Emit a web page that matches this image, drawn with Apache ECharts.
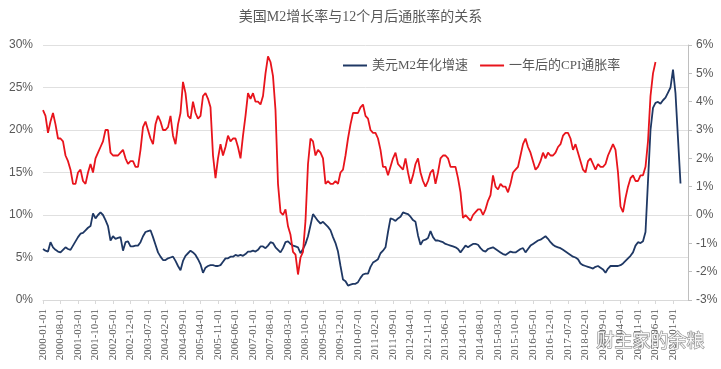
<!DOCTYPE html>
<html>
<head>
<meta charset="utf-8">
<script src="https://cdn.jsdelivr.net/npm/echarts@6/dist/echarts.min.js"></script>
<style>
html,body{margin:0;padding:0;background:#fff;}
#c{width:721px;height:369px;}
</style>
</head>
<body>
<div id="c"></div>
<script>
// Category range (monthly, first day of month)
var startYear = 2000, startMonth = 1, endYear = 2021, endMonth = 7;

// 美元M2年化增速 (%), left axis, monthly from 2000-01
var m2Growth = [
  6.0, 5.8, 5.7, 6.8, 6.2, 5.9, 5.7, 5.6, 5.9, 6.2, 6.0, 5.9,        // 2000
  6.4, 6.9, 7.4, 7.8, 7.9, 8.2, 8.5, 8.7, 10.2, 9.6, 10.0, 10.3,     // 2001
  10.0, 9.4, 8.7, 7.0, 7.5, 7.2, 7.3, 7.4, 5.8, 6.8, 6.9, 6.3,       // 2002
  6.3, 6.4, 6.4, 6.8, 7.5, 8.0, 8.1, 8.2, 7.4, 6.5, 5.6, 5.1,        // 2003
  4.7, 4.7, 4.9, 5.0, 5.1, 4.6, 4.0, 3.5, 4.6, 5.2, 5.5, 5.8,        // 2004
  5.6, 5.3, 4.8, 4.2, 3.2, 3.8, 4.0, 4.1, 4.1, 4.0, 4.0, 4.1,        // 2005
  4.5, 4.9, 4.9, 5.1, 5.1, 5.3, 5.2, 5.3, 5.2, 5.4, 5.7, 5.7,        // 2006
  5.8, 5.7, 5.9, 6.3, 6.3, 6.1, 6.4, 6.8, 6.7, 6.2, 5.9, 5.6,        // 2007
  6.1, 6.8, 6.9, 6.6, 6.4, 6.3, 6.2, 5.5, 6.0, 6.6, 7.5, 8.8,        // 2008
  10.1, 9.7, 9.3, 9.0, 9.2, 8.9, 8.6, 8.2, 7.4, 6.7, 5.7, 4.0,       // 2009
  2.4, 2.2, 1.7, 1.8, 1.9, 1.9, 2.1, 2.6, 3.0, 3.1, 3.1, 3.9,        // 2010
  4.4, 4.6, 4.8, 5.5, 5.8, 6.2, 8.0, 9.6, 9.5, 9.3, 9.6, 9.8,        // 2011
  10.3, 10.2, 10.1, 9.8, 9.4, 9.2, 7.6, 6.5, 7.0, 7.1, 7.3, 8.1,     // 2012
  7.4, 7.0, 7.0, 6.9, 6.8, 6.6, 6.5, 6.4, 6.3, 6.2, 6.0, 5.6,        // 2013
  6.0, 6.4, 6.2, 6.4, 6.6, 6.6, 6.5, 6.1, 5.8, 5.7, 6.0, 6.1,        // 2014
  6.2, 6.0, 5.8, 5.6, 5.4, 5.3, 5.5, 5.7, 5.6, 5.6, 5.8, 6.0,        // 2015
  6.1, 5.6, 6.0, 6.4, 6.6, 6.8, 7.0, 7.1, 7.3, 7.5, 7.2, 6.8,        // 2016
  6.5, 6.3, 6.2, 6.1, 5.9, 5.7, 5.5, 5.3, 5.1, 5.0, 4.8, 4.3,        // 2017
  4.1, 4.0, 3.9, 3.8, 3.7, 3.9, 4.0, 3.8, 3.6, 3.2, 3.7, 4.0,        // 2018
  4.0, 4.0, 4.0, 4.1, 4.3, 4.6, 4.9, 5.2, 5.6, 6.4, 6.8, 6.7,        // 2019
  6.9, 8.0, 14.0, 20.0, 22.6, 23.2, 23.3, 23.1, 23.5, 23.8, 24.4, 25.0, // 2020
  27.1, 24.3, 19.0, 13.7                                               // 2021
];

// 一年后的CPI通胀率 (%), right axis, monthly from 2000-01 (CPI of month +12)
var cpiNextYear = [
  3.7, 3.5, 2.9, 3.3, 3.6, 3.2, 2.7, 2.7, 2.6, 2.1, 1.9, 1.6,        // 2000
  1.1, 1.1, 1.5, 1.6, 1.2, 1.1, 1.5, 1.8, 1.5, 2.0, 2.2, 2.4,        // 2001
  2.6, 3.0, 3.0, 2.2, 2.1, 2.1, 2.1, 2.2, 2.3, 2.0, 1.8, 1.9,        // 2002
  1.9, 1.7, 1.7, 2.3, 3.1, 3.3, 3.0, 2.7, 2.5, 3.2, 3.5, 3.3,        // 2003
  3.0, 3.0, 3.1, 3.5, 2.8, 2.5, 3.2, 3.6, 4.7, 4.3, 3.5, 3.4,        // 2004
  4.0, 3.6, 3.4, 3.5, 4.2, 4.3, 4.1, 3.8, 2.1, 1.3, 2.0, 2.5,        // 2005
  2.1, 2.4, 2.8, 2.6, 2.7, 2.7, 2.4, 2.0, 2.8, 3.5, 4.3, 4.1,        // 2006
  4.3, 4.0, 4.0, 3.9, 4.2, 5.0, 5.6, 5.4, 4.9, 3.7, 1.1, 0.1,        // 2007
  0.0, 0.2, -0.4, -0.7, -1.3, -1.4, -2.1, -1.5, -1.3, -0.2, 1.8, 2.7, // 2008
  2.6, 2.1, 2.3, 2.2, 2.0, 1.1, 1.2, 1.1, 1.1, 1.2, 1.1, 1.5,        // 2009
  1.6, 2.1, 2.7, 3.2, 3.6, 3.6, 3.6, 3.8, 3.9, 3.5, 3.4, 3.0,        // 2010
  2.9, 2.9, 2.7, 2.3, 1.7, 1.7, 1.4, 1.7, 2.0, 2.2, 1.8, 1.7,        // 2011
  1.6, 2.0, 1.5, 1.1, 1.4, 1.8, 2.0, 1.5, 1.2, 1.0, 1.2, 1.5,        // 2012
  1.6, 1.1, 1.5, 2.0, 2.1, 2.1, 2.0, 1.7, 1.7, 1.7, 1.3, 0.8,        // 2013
  -0.1, 0.0, -0.1, -0.2, 0.0, 0.1, 0.2, 0.2, 0.0, 0.2, 0.5, 0.7,     // 2014
  1.4, 1.0, 0.9, 1.1, 1.0, 1.0, 0.8, 1.1, 1.5, 1.6, 1.7, 2.1,        // 2015
  2.5, 2.7, 2.4, 2.2, 1.9, 1.6, 1.7, 1.9, 2.2, 2.0, 2.2, 2.1,        // 2016
  2.1, 2.2, 2.4, 2.5, 2.8, 2.9, 2.9, 2.7, 2.3, 2.5, 2.2, 1.9,        // 2017
  1.6, 1.5, 1.9, 2.0, 1.8, 1.6, 1.8, 1.7, 1.7, 1.8, 2.1, 2.3,        // 2018
  2.5, 2.3, 1.5, 0.3, 0.1, 0.6, 1.0, 1.3, 1.4, 1.2, 1.2, 1.4,        // 2019
  1.4, 1.7, 2.6, 4.2, 5.0, 5.4                                         // 2020
];

var titleText = '美国M2增长率与12个月后通胀率的关系';
var seriesNames = ['美元M2年化增速', '一年后的CPI通胀率'];
var watermarkText = '财主家的余粮';

var categories = [];
(function () {
  var y = startYear, m = startMonth;
  while (y < endYear || (y === endYear && m <= endMonth)) {
    categories.push(y + '-' + (m < 10 ? '0' + m : '' + m) + '-01');
    m++; if (m > 12) { m = 1; y++; }
  }
})();

var txt = '#595959';
var serifCJK = '"Liberation Serif", "Noto Sans CJK SC", serif';
var chart = echarts.init(document.getElementById('c'), null, {renderer: 'canvas'});
chart.setOption({
  backgroundColor: '#ffffff',
  animation: false,
  title: {
    text: titleText,
    left: 'center',
    top: 10,
    padding: 0,
    textStyle: {fontSize: 14, fontWeight: 'normal', color: txt, fontFamily: serifCJK}
  },
  legend: {
    data: seriesNames,
    left: 343,
    top: 59,
    padding: 0,
    itemGap: 12,
    itemWidth: 24,
    itemHeight: 2,
    icon: 'rect',
    textStyle: {fontSize: 13, color: txt, fontFamily: serifCJK}
  },
  grid: {left: 43, right: 33, top: 45, bottom: 69, containLabel: false},
  xAxis: {
    type: 'category',
    data: categories,
    boundaryGap: false,
    axisLine: {show: true, lineStyle: {color: '#d9d9d9', width: 1}},
    axisTick: {show: true, interval: 6, length: 4, inside: false, lineStyle: {color: '#d9d9d9'}},
    axisLabel: {interval: 6, rotate: 90, margin: 9, fontSize: 11, color: txt, fontFamily: '"Liberation Serif", serif'},
    splitLine: {show: false}
  },
  yAxis: [
    {
      type: 'value', min: 0, max: 30, interval: 5,
      axisLine: {show: false}, axisTick: {show: false},
      axisLabel: {formatter: '{value}%', fontSize: 12, color: txt, margin: 10, fontFamily: '"Liberation Sans", sans-serif'},
      splitLine: {show: true, lineStyle: {color: '#e0e0e0', width: 1}}
    },
    {
      type: 'value', min: -3, max: 6, interval: 1, position: 'right',
      axisLine: {show: true, lineStyle: {color: '#bfbfbf', width: 1}},
      axisTick: {show: true, length: 4, lineStyle: {color: '#bfbfbf'}},
      axisLabel: {formatter: '{value}%', fontSize: 12, color: txt, margin: 8, fontFamily: '"Liberation Sans", sans-serif'},
      splitLine: {show: false}
    }
  ],
  graphic: [{
    type: 'text',
    left: 596,
    top: 331,
    z: 100,
    style: {
      text: watermarkText,
      fontSize: 18,
      fontFamily: '"Noto Sans CJK SC", sans-serif',
      fill: 'rgba(255,255,255,0.9)',
      stroke: 'rgba(110,110,110,0.8)',
      lineWidth: 1.2
    }
  }],
  series: [
    {
      name: seriesNames[0], type: 'line', yAxisIndex: 0, data: m2Growth,
      symbol: 'none', showSymbol: false, smooth: false,
      lineStyle: {color: '#1f3864', width: 1.8}, itemStyle: {color: '#1f3864'}
    },
    {
      name: seriesNames[1], type: 'line', yAxisIndex: 1, data: cpiNextYear,
      symbol: 'none', showSymbol: false, smooth: false,
      lineStyle: {color: '#e8141c', width: 1.8}, itemStyle: {color: '#e8141c'}
    }
  ]
});
</script>
</body>
</html>
